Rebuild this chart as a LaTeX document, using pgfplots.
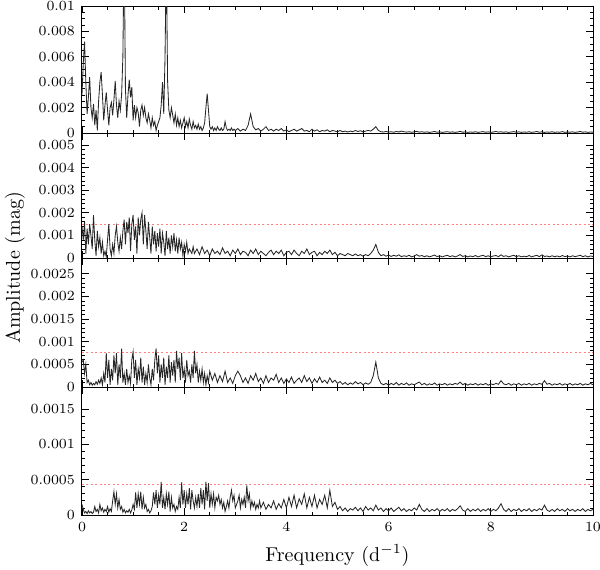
\documentclass[border=0pt]{standalone}
\usepackage{pgfplots}
\pgfplotsset{compat=1.18}

% spectra in units of 1e-4 mag; tick labels written out
\pgfplotsset{panel/.style={
  width=255.5pt, scale only axis,
  xmin=0, xmax=10, ymin=0,
  xtick={0,2,...,10}, minor x tick num=3,
  tick align=inside, major tick length=3.5pt, minor tick length=1.75pt,
  every tick/.style={black, line width=0.4pt},
  axis line style={line width=0.5pt},
  tick label style={font=\fontsize{7}{8}\selectfont},
  scaled y ticks=false,
}}
\tikzset{spec/.style={black!85, line width=0.42pt, mark=none},
  thr/.style={red!50, line width=0.5pt, dash pattern=on 1pt off 1.2pt, mark=none}}

\begin{document}
\begin{tikzpicture}
\path[use as bounding box] (-41pt,3pt) rectangle (259pt,-281.5pt);

% panel 1
\begin{axis}[panel, name=p1, at={(0,0)}, anchor=north west, height=63.5pt,
  ymax=100, ytick={0,20,40,60,80,100}, minor y tick num=3,
  yticklabels={0,0.002,0.004,0.006,0.008,0.01}, xticklabels={}]
\addplot[spec] coordinates {
(0,30)(0.025,55)(0.05,72)(0.075,40)(0.1,15)(0.125,28)(0.15,44)(0.175,20)(0.2,12)(0.225,23)
(0.25,6)(0.275,18)(0.3,2)(0.325,25)(0.35,40)(0.375,48)(0.4,30)(0.425,10)(0.45,22)(0.475,32)
(0.5,18)(0.525,6)(0.55,20)(0.575,24)(0.6,14)(0.625,26)(0.65,41)(0.675,22)(0.7,12)(0.725,25)
(0.75,18)(0.775,30)(0.8,60)(0.825,150)(0.85,35)(0.875,12)(0.9,30)(0.925,42)(0.95,28)(0.975,36)
(1,10)(1.025,22)(1.05,12)(1.075,20)(1.1,16)(1.125,5)(1.15,18)(1.175,22)(1.2,14)(1.225,20)
(1.25,12)(1.275,8)(1.3,15)(1.325,10)(1.35,4)(1.375,12)(1.4,6)(1.425,9)(1.45,2)(1.475,6)
(1.5,9)(1.525,12)(1.55,22)(1.575,40)(1.6,15)(1.625,60)(1.65,140)(1.675,41)(1.7,18)(1.725,12)
(1.75,20)(1.775,14)(1.8,8)(1.825,15)(1.85,6)(1.875,12)(1.9,5)(1.925,10)(1.95,4)(1.975,8)
(2,12)(2.025,5)(2.05,9)(2.075,4)(2.1,11)(2.125,6)(2.15,3)(2.175,9)(2.2,4)(2.225,6)
(2.25,3)(2.275,7)(2.3,3)(2.325,5)(2.35,2)(2.375,4)(2.4,8)(2.425,20)(2.45,31)(2.475,18)
(2.5,5)(2.525,3)(2.55,5)(2.575,2)(2.6,4)(2.625,2)(2.65,5)(2.675,3)(2.7,2)(2.725,4)
(2.75,2)(2.775,3)(2.8,9)(2.825,4)(2.85,2)(2.875,3)(2.9,2)(2.925,4)(2.95,2)(2.975,3)
(3,2)(3.05,3.5)(3.1,1.5)(3.15,3)(3.2,2)(3.25,6)(3.3,15)(3.35,5)(3.4,2.5)(3.45,3.5)
(3.5,1.5)(3.55,3)(3.6,5)(3.65,2)(3.7,3)(3.75,1.5)(3.8,3)(3.85,2)(3.9,3.5)(3.95,1.5)
(4,2.5)(4.05,1)(4.1,2)(4.15,3)(4.2,1.5)(4.25,2.5)(4.3,3.5)(4.35,1.5)(4.4,2)(4.45,1)
(4.5,3)(4.55,1.5)(4.6,2.5)(4.65,1)(4.7,2)(4.75,1.5)(4.8,2.5)(4.85,1)(4.9,2)(4.95,1.5)
(5,1)(5.05,2)(5.1,1)(5.15,1.5)(5.2,0.8)(5.25,1.5)(5.3,1)(5.35,2)(5.4,1.2)(5.45,1.8)
(5.5,0.8)(5.55,1.5)(5.6,2)(5.65,1.5)(5.7,3)(5.75,5)(5.8,2)(5.85,1)(5.9,0.8)(5.95,1.2)
(6,0.7)(6.05,1)(6.1,0.6)(6.15,1.2)(6.2,0.8)(6.25,1.5)(6.3,1)(6.35,0.7)(6.4,1)(6.45,0.6)
(6.5,0.9)(6.55,1.3)(6.6,0.7)(6.65,1)(6.7,0.6)(6.75,0.9)(6.8,0.5)(6.85,0.8)(6.9,1.2)(6.95,0.6)
(7,0.9)(7.05,0.5)(7.1,0.8)(7.15,1)(7.2,0.6)(7.25,0.9)(7.3,0.5)(7.35,0.8)(7.4,1.3)(7.45,0.6)
(7.5,0.9)(7.55,0.5)(7.6,0.8)(7.65,0.6)(7.7,1)(7.75,0.5)(7.8,0.8)(7.85,1.1)(7.9,0.6)(7.95,0.9)
(8,0.5)(8.05,0.8)(8.1,1.2)(8.15,0.7)(8.2,1)(8.25,0.6)(8.3,0.9)(8.35,0.5)(8.4,0.8)(8.45,1.1)
(8.5,0.6)(8.55,0.9)(8.6,0.5)(8.65,0.8)(8.7,0.6)(8.75,1)(8.8,0.5)(8.85,0.8)(8.9,1.2)(8.95,0.6)
(9,0.9)(9.05,0.5)(9.1,0.8)(9.15,0.6)(9.2,1)(9.25,0.5)(9.3,0.8)(9.35,0.6)(9.4,1.1)(9.45,0.5)
(9.5,0.8)(9.55,0.6)(9.6,0.9)(9.65,0.5)(9.7,0.8)(9.75,1.2)(9.8,0.6)(9.85,0.9)(9.9,0.5)(9.95,0.8)
(10,0.6)};
\end{axis}

% panel 2
\begin{axis}[panel, name=p2, at={(p1.south west)}, anchor=north west, height=62.5pt,
  ymax=55.3, ytick={0,10,20,30,40,50}, minor y tick num=4,
  yticklabels={0,0.001,0.002,0.003,0.004,0.005}, xticklabels={}]
\addplot[thr] coordinates {(0,15)(10,15)};
\addplot[spec] coordinates {
(0,14)(0.025,8)(0.05,16)(0.075,2)(0.1,13)(0.125,6)(0.15,15)(0.175,10)(0.2,4)(0.225,19)
(0.25,8)(0.275,1)(0.3,12)(0.325,5)(0.35,9)(0.375,2)(0.4,7)(0.425,1)(0.45,3)(0.475,0.5)
(0.5,8)(0.525,15)(0.55,4)(0.575,1)(0.6,6)(0.625,2)(0.65,10)(0.675,14)(0.7,7)(0.725,3)
(0.75,9)(0.775,4)(0.8,12)(0.825,17)(0.85,6)(0.875,16)(0.9,11)(0.925,18)(0.95,3)(0.975,15)
(1,19)(1.025,8)(1.05,14)(1.075,2)(1.1,18)(1.125,10)(1.15,17)(1.175,20)(1.2,6)(1.225,19)
(1.25,12)(1.275,4)(1.3,16)(1.325,9)(1.35,2)(1.375,14)(1.4,6)(1.425,12)(1.45,3)(1.475,11)
(1.5,5)(1.525,13)(1.55,2)(1.575,11)(1.6,7)(1.625,1)(1.65,12)(1.675,4)(1.7,9)(1.725,2)
(1.75,10)(1.775,5)(1.8,11)(1.825,3)(1.85,8)(1.875,2)(1.9,9)(1.925,4)(1.95,7)(1.975,1)
(2,6)(2.025,3)(2.05,7)(2.075,2)(2.1,4)(2.125,3)(2.15,2)(2.175,5)(2.2,2)
(2.25,4)(2.3,1.5)(2.35,5)(2.4,2)(2.45,3.5)(2.5,1)(2.55,4)(2.6,2)(2.65,3)(2.7,1.5)
(2.75,4.5)(2.8,2)(2.85,3)(2.9,1)(2.95,3.5)(3,2)(3.05,4)(3.1,1.5)(3.15,3)(3.2,2.5)
(3.25,1)(3.3,3.5)(3.35,2)(3.4,4)(3.45,1.5)(3.5,3)(3.55,2)(3.6,1)(3.65,2.5)(3.7,3.5)
(3.75,1.5)(3.8,3)(3.85,2)(3.9,3.5)(3.95,1)(4,2.5)(4.05,3)(4.1,1.5)(4.15,3.5)(4.2,2)
(4.25,1)(4.3,3)(4.35,2)(4.4,4)(4.45,1.5)(4.5,2.5)(4.55,3)(4.6,1)(4.65,2.5)(4.7,1.5)
(4.75,3)(4.8,2)(4.85,3.5)(4.9,1.5)(4.95,2.5)(5,1)(5.05,2)(5.1,1.5)(5.15,1)(5.2,2)
(5.25,1.5)(5.3,1)(5.35,1.8)(5.4,1)(5.45,1.5)(5.5,0.8)(5.55,1.5)(5.6,1)(5.65,2)(5.7,3.5)
(5.75,6)(5.8,2.5)(5.85,1)(5.9,1.5)(5.95,0.8)
(6,1.3)(6.05,0.7)(6.1,1.2)(6.15,0.8)(6.2,1.4)(6.25,0.6)(6.3,1)(6.35,0.7)(6.4,1.2)(6.45,0.5)
(6.5,0.9)(6.55,1.5)(6.6,0.8)(6.65,1.1)(6.7,0.6)(6.75,1)(6.8,0.5)(6.85,0.9)(6.9,1.3)(6.95,0.6)
(7,1)(7.05,0.5)(7.1,0.9)(7.15,1.2)(7.2,0.6)(7.25,1)(7.3,0.5)(7.35,0.9)(7.4,1.5)(7.45,0.7)
(7.5,1)(7.55,0.5)(7.6,0.9)(7.65,0.6)(7.7,1.1)(7.75,0.5)(7.8,0.9)(7.85,1.2)(7.9,0.6)(7.95,1)
(8,0.5)(8.05,0.9)(8.1,1.1)(8.15,0.6)(8.2,1.4)(8.25,0.7)(8.3,1)(8.35,0.5)(8.4,0.9)(8.45,1.2)
(8.5,0.6)(8.55,1)(8.6,0.5)(8.65,0.8)(8.7,0.6)(8.75,1.1)(8.8,0.5)(8.85,0.9)(8.9,1.2)(8.95,0.6)
(9,1.4)(9.05,0.7)(9.1,0.9)(9.15,0.5)(9.2,1)(9.25,0.6)(9.3,0.9)(9.35,0.5)(9.4,1.1)(9.45,0.6)
(9.5,0.9)(9.55,0.5)(9.6,1)(9.65,0.6)(9.7,0.9)(9.75,1.2)(9.8,0.6)(9.85,1)(9.9,0.5)(9.95,0.9)
(10,0.7)};
\end{axis}

% panel 3
\begin{axis}[panel, name=p3, at={(p2.south west)}, anchor=north west, height=64.5pt,
  ymax=28.5, ytick={0,5,10,15,20,25}, minor y tick num=4,
  yticklabels={0,0.0005,0.001,0.0015,0.002,0.0025}, xticklabels={}]
\addplot[thr] coordinates {(0,7.6)(10,7.6)};
\addplot[spec] coordinates {
(0,5.5)(0.025,6)(0.05,3)(0.075,5)(0.1,1)(0.125,1.5)(0.15,0.5)(0.175,1)(0.2,0.4)(0.225,0.8)
(0.25,0.5)(0.275,1.2)(0.3,0.6)(0.325,1.5)(0.35,0.8)(0.375,2)(0.4,0.5)(0.425,3)(0.45,1)(0.475,7.5)
(0.5,2)(0.525,6)(0.55,0.5)(0.575,4)(0.6,1.5)(0.625,7)(0.65,3)(0.675,7.5)(0.7,0.5)(0.725,5)
(0.75,2)(0.775,8.5)(0.8,1)(0.825,3)(0.85,0.5)(0.875,4)(0.9,1)(0.925,2.5)(0.95,0.8)(0.975,6)
(1,7.8)(1.025,2)(1.05,6)(1.075,0.5)(1.1,4)(1.125,2)(1.15,6.5)(1.175,1)(1.2,4.5)(1.225,0.5)
(1.25,3)(1.275,1)(1.3,5)(1.325,2)(1.35,0.5)(1.375,4)(1.4,1.5)(1.425,6)(1.45,8.5)(1.475,3)
(1.5,7)(1.525,1)(1.55,5)(1.575,2)(1.6,6.5)(1.625,0.5)(1.65,4.5)(1.675,2)(1.7,7)(1.725,1)
(1.75,5.5)(1.775,2.5)(1.8,6)(1.825,1)(1.85,8)(1.875,4)(1.9,6.5)(1.925,1.5)(1.95,7.5)(1.975,2)
(2,4)(2.025,1)(2.05,6)(2.075,2.5)(2.1,3.5)(2.125,1)(2.15,5)(2.175,2)(2.2,8)(2.225,3)
(2.25,5)(2.275,1)(2.3,3.5)(2.325,1.5)(2.35,4)(2.375,1)(2.4,3)(2.425,0.5)(2.45,2.5)(2.475,1)
(2.5,3.5)(2.55,1.5)(2.6,3)(2.65,1)(2.7,2.5)(2.75,1.2)(2.8,3.5)(2.85,1)(2.9,2)(2.95,0.8)
(3,2.5)(3.05,3.5)(3.1,2.5)(3.15,1)(3.2,2)(3.25,0.8)(3.3,2.5)(3.35,1.5)(3.4,3)(3.45,1.2)
(3.5,2)(3.55,0.8)(3.6,2.5)(3.65,1)(3.7,2)(3.75,1.5)(3.8,2.8)(3.85,1)(3.9,2)(3.95,0.8)
(4,1.8)(4.05,1)(4.1,2.2)(4.15,0.8)(4.2,1.5)(4.25,2)(4.3,1)(4.35,2.5)(4.4,1.2)(4.45,2)
(4.5,0.8)(4.55,1.8)(4.6,1)(4.65,2.2)(4.7,1)(4.75,1.5)(4.8,0.8)(4.85,2)(4.9,1)(4.95,1.5)
(5,0.8)(5.05,1.2)(5.1,0.6)(5.15,1)(5.2,0.5)(5.25,0.9)(5.3,0.6)(5.35,1.2)(5.4,0.7)(5.45,1)
(5.5,0.5)(5.55,0.9)(5.6,0.6)(5.65,1)(5.7,2.5)(5.75,5.5)(5.8,2)(5.85,0.8)(5.9,0.5)(5.95,0.8)
(6,0.4)(6.05,0.8)(6.1,0.5)(6.15,1)(6.2,0.4)(6.25,0.8)(6.3,0.5)(6.35,0.9)(6.4,0.4)(6.45,0.7)
(6.5,0.5)(6.55,0.8)(6.6,1.1)(6.65,0.5)(6.7,0.8)(6.75,0.4)(6.8,0.7)(6.85,0.5)(6.9,0.9)(6.95,0.4)
(7,0.7)(7.05,0.5)(7.1,0.8)(7.15,0.4)(7.2,0.7)(7.25,0.5)(7.3,0.8)(7.35,0.6)(7.4,1.1)(7.45,0.5)
(7.5,0.8)(7.55,0.4)(7.6,0.7)(7.65,0.5)(7.7,0.8)(7.75,0.4)(7.8,0.7)(7.85,0.5)(7.9,0.8)(7.95,0.4)
(8,0.7)(8.05,0.5)(8.1,0.8)(8.15,0.6)(8.2,1.4)(8.25,0.7)(8.3,0.5)(8.35,0.8)(8.4,0.4)(8.45,0.7)
(8.5,0.5)(8.55,0.8)(8.6,0.4)(8.65,0.7)(8.7,0.5)(8.75,0.8)(8.8,0.4)(8.85,0.7)(8.9,0.5)(8.95,0.8)
(9,0.6)(9.05,1.4)(9.1,0.6)(9.15,0.8)(9.2,0.4)(9.25,0.7)(9.3,0.5)(9.35,0.8)(9.4,0.4)(9.45,0.7)
(9.5,0.5)(9.55,0.8)(9.6,0.4)(9.65,0.7)(9.7,0.5)(9.75,0.8)(9.8,0.4)(9.85,0.7)(9.9,0.5)(9.95,0.8)
(10,0.5)};
\end{axis}

% panel 4
\begin{axis}[panel, name=p4, at={(p3.south west)}, anchor=north west, height=64pt,
  ymax=18.1, ytick={0,5,10,15}, minor y tick num=4,
  yticklabels={0,0.0005,0.001,0.0015}]
\addplot[thr] coordinates {(0,4.25)(10,4.25)};
\addplot[spec] coordinates {
(0,1.5)(0.025,0.8)(0.05,0.3)(0.075,0.5)(0.1,0.2)(0.125,0.6)(0.15,0.3)(0.175,0.5)(0.2,0.2)(0.225,0.4)
(0.25,1.2)(0.275,0.5)(0.3,0.8)(0.325,0.3)(0.35,1.5)(0.375,0.6)(0.4,1)(0.425,0.4)(0.45,0.8)(0.475,0.5)
(0.5,1.2)(0.525,0.4)(0.55,0.9)(0.575,0.5)(0.6,2)(0.625,3.3)(0.65,1.5)(0.675,3)(0.7,1)(0.725,2.2)
(0.75,0.8)(0.775,1.2)(0.8,0.4)(0.825,0.8)(0.85,0.3)(0.875,0.6)(0.9,0.4)(0.925,0.8)(0.95,0.3)(0.975,0.7)
(1,1.5)(1.025,0.8)(1.05,3.2)(1.075,1)(1.1,3)(1.125,1.5)(1.15,3.3)(1.175,0.8)(1.2,2.5)(1.225,1)
(1.25,1.5)(1.275,0.5)(1.3,0.8)(1.325,0.3)(1.35,0.6)(1.375,1.2)(1.4,3.2)(1.425,1.5)(1.45,3.5)(1.475,1)
(1.5,2.8)(1.525,1.5)(1.55,4.7)(1.575,1)(1.6,2.5)(1.625,0.8)(1.65,3)(1.675,1.5)(1.7,3.3)(1.725,0.5)
(1.75,2.5)(1.775,1)(1.8,1.5)(1.825,0.5)(1.85,1.2)(1.875,0.8)(1.9,2.5)(1.925,1)(1.95,4.6)(1.975,1.5)
(2,3.5)(2.025,1)(2.05,3)(2.075,1.5)(2.1,3.8)(2.125,0.8)(2.15,3.5)(2.175,2)(2.2,1)(2.225,2.5)
(2.25,1.2)(2.275,3)(2.3,1)(2.325,3.8)(2.35,1.5)(2.375,3.5)(2.4,0.8)(2.425,4.7)(2.45,2)(2.475,4.5)
(2.5,1)(2.525,3)(2.55,1.5)(2.575,3)(2.6,1)(2.625,2.5)(2.65,2)(2.675,2.8)(2.7,1.5)(2.725,2.2)
(2.75,1)(2.775,1.8)(2.8,0.5)(2.825,1.2)(2.85,2)(2.875,1)(2.9,2.5)(2.925,3.5)(2.95,2)(2.975,2.8)
(3,1)(3.025,1.5)(3.05,2)(3.075,2.8)(3.1,1)(3.125,2.2)(3.15,1.5)(3.175,2.5)(3.2,1)(3.225,4.2)
(3.25,2)(3.275,3)(3.3,1)(3.325,2)(3.35,1.2)(3.375,1.8)(3.4,0.8)(3.425,1.5)(3.45,1)(3.475,2)
(3.5,1)(3.55,1.8)(3.6,0.8)(3.65,1.5)(3.7,1)(3.75,2)(3.8,0.8)(3.85,1.6)(3.9,1)(3.95,2.2)
(4,1)(4.05,2.5)(4.1,1.2)(4.15,2.8)(4.2,1)(4.25,2.3)(4.3,1.5)(4.35,3)(4.4,1)(4.45,2.5)
(4.5,1.2)(4.55,2.8)(4.6,1)(4.65,2.2)(4.7,1.5)(4.75,2.8)(4.8,1)(4.85,3.5)(4.9,1.2)(4.95,1.8)
(5,0.8)(5.05,1.2)(5.1,0.6)(5.15,1)(5.2,0.5)(5.25,0.9)(5.3,0.7)(5.35,1.1)(5.4,0.6)(5.45,1)
(5.5,0.5)(5.55,1.2)(5.6,0.7)(5.65,1)(5.7,0.6)(5.75,1.4)(5.8,0.7)(5.85,1)(5.9,0.5)(5.95,0.9)
(6,0.6)(6.05,1)(6.1,0.5)(6.15,0.8)(6.2,1.1)(6.25,0.6)(6.3,0.9)(6.35,0.5)(6.4,0.8)(6.45,0.6)
(6.5,1)(6.55,0.7)(6.6,1.5)(6.65,0.8)(6.7,0.5)(6.75,0.9)(6.8,0.5)(6.85,0.8)(6.9,0.6)(6.95,0.9)
(7,0.5)(7.05,0.8)(7.1,0.6)(7.15,0.9)(7.2,0.5)(7.25,0.8)(7.3,0.6)(7.35,0.9)(7.4,1.3)(7.45,0.7)
(7.5,0.5)(7.55,0.9)(7.6,0.5)(7.65,0.8)(7.7,0.6)(7.75,0.9)(7.8,0.5)(7.85,0.8)(7.9,0.6)(7.95,0.9)
(8,0.5)(8.05,0.8)(8.1,0.6)(8.15,1)(8.2,1.6)(8.25,0.8)(8.3,0.5)(8.35,0.9)(8.4,0.5)(8.45,0.8)
(8.5,0.6)(8.55,0.9)(8.6,0.5)(8.65,0.8)(8.7,0.6)(8.75,0.9)(8.8,0.5)(8.85,0.8)(8.9,0.6)(8.95,0.9)
(9,0.7)(9.05,1.4)(9.1,0.7)(9.15,0.5)(9.2,0.8)(9.25,0.5)(9.3,0.9)(9.35,0.6)(9.4,0.8)(9.45,0.5)
(9.5,0.9)(9.55,0.6)(9.6,0.8)(9.65,0.5)(9.7,0.8)(9.75,0.6)(9.8,0.9)(9.85,0.5)(9.9,0.8)(9.95,0.6)
(10,0.8)};
\end{axis}

\node[rotate=90, font=\fontsize{10}{12}\selectfont] at (-33.5pt,-131pt) {Amplitude (mag)};
\node[anchor=base, font=\fontsize{10}{12}\selectfont] at (127.75pt,-277.5pt) {Frequency (d$^{-1}$)};
\end{tikzpicture}
\end{document}
